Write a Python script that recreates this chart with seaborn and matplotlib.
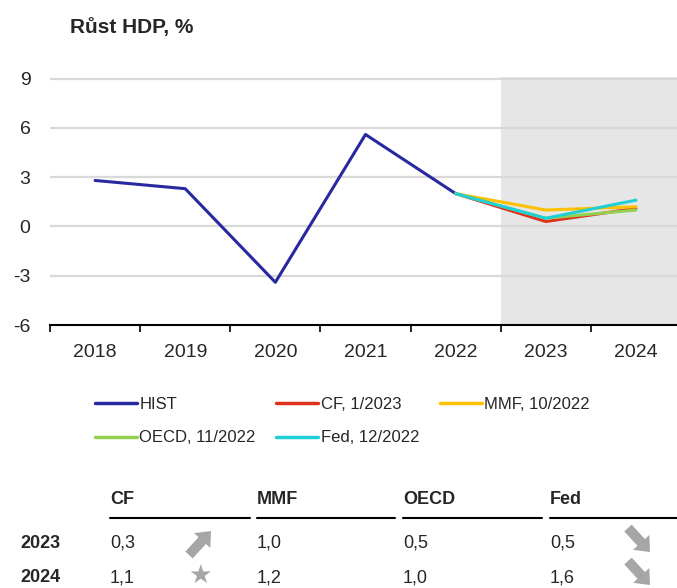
import pandas as pd
import matplotlib.pyplot as plt
import matplotlib.patches as mpatches
from matplotlib.lines import Line2D
import seaborn as sns

sns.set_theme(style="white")
plt.rcParams['font.family'] = ['Liberation Sans', 'DejaVu Sans']

# data
years = [2018, 2019, 2020, 2021, 2022, 2023, 2024]
hist_years = [2018, 2019, 2020, 2021, 2022]
hist_vals = [2.8, 2.3, -3.4, 5.6, 2.0]
fc_years = [2022, 2023, 2024]
cf_vals = [2.0, 0.3, 1.1]
mmf_vals = [2.0, 1.0, 1.2]
oecd_vals = [2.0, 0.5, 1.0]
fed_vals = [2.0, 0.5, 1.6]

series_names = ['HIST', 'CF, 1/2023', 'MMF, 10/2022', 'OECD, 11/2022', 'Fed, 12/2022']
colors = ['#2828A0', '#E0301E', '#FFC000', '#92D050', '#1FCFD6']

table_cols = ['CF', 'MMF', 'OECD', 'Fed']
table_rows = ['2023', '2024']
table_2023 = ['0,3', '1,0', '0,5', '0,5']
table_2024 = ['1,1', '1,2', '1,0', '1,6']

y_ticks = [-6, -3, 0, 3, 6, 9]

W, H = 677, 588
fig = plt.figure(figsize=(W / 100, H / 100), dpi=100)
ax = fig.add_axes([50 / W, (H - 325) / H, 631 / W, 248 / H])

frames = [pd.DataFrame({'year': hist_years, 'val': hist_vals, 'series': 'HIST'})]
for name, vals in zip(series_names[1:], [cf_vals, mmf_vals, oecd_vals, fed_vals]):
    frames.append(pd.DataFrame({'year': fc_years, 'val': vals, 'series': name}))
df = pd.concat(frames, ignore_index=True)

ax.axvspan(2022.5, 2024.5, color='#E6E6E6', zorder=0, lw=0)
for t in y_ticks[1:]:
    ax.axhline(t, color='#D9D9D9', lw=1.6, zorder=1)

sns.lineplot(data=df, x='year', y='val', hue='series', hue_order=series_names,
             palette=colors, lw=2.2, ax=ax, legend=False, zorder=3)

ax.set_xlim(2017.5, 2024.5)
ax.set_ylim(-6, 9.1)
ax.set_yticks(y_ticks)
ax.set_yticklabels([str(t) for t in y_ticks], fontsize=14)
ax.tick_params(axis='y', length=0, pad=14)
ax.set_xticks([y - 0.5 for y in years] + [2024.5])
ax.set_xticklabels([])
ax.set_xticks(years, minor=True)
ax.set_xticklabels([str(y) for y in years], minor=True, fontsize=14)
ax.tick_params(axis='x', which='major', direction='out', length=5, width=1.2, color='black', bottom=True)
ax.tick_params(axis='x', which='minor', length=0, pad=14)
ax.set_xlabel('')
ax.set_ylabel('')
for s in ['top', 'right', 'left']:
    ax.spines[s].set_visible(False)
ax.spines['bottom'].set_color('black')
ax.spines['bottom'].set_linewidth(1.5)
ax.spines['bottom'].set_zorder(4)

fig.text(70 / W, 1 - 28 / H, 'Růst HDP, %', fontsize=15, fontweight='bold', va='center')

# legend filled column by column -> reorder so rows read HIST, CF, MMF / OECD, Fed
order = [0, 3, 1, 4, 2]
handles = [Line2D([0], [0], color=colors[i], lw=2.5) for i in order]
labels = [series_names[i] for i in order]
fig.legend(handles, labels, loc='upper left', bbox_to_anchor=(80 / W, 1 - 382 / H),
           ncol=3, frameon=False, fontsize=12, handlelength=2.5, handletextpad=0.15,
           columnspacing=1.25, labelspacing=1.1)

# table below the chart
col_x = [110, 257, 403, 550]
col_end = [250, 395, 542, 677]
for x, x1, name in zip(col_x, col_end, table_cols):
    fig.text(x / W, 1 - 500 / H, name, fontsize=13, fontweight='bold', va='center')
    fig.add_artist(Line2D([x / W, x1 / W], [1 - 518 / H, 1 - 518 / H], color='black', lw=1.5))
for row_y, label, vals in zip([543, 578], table_rows, [table_2023, table_2024]):
    fig.text(20 / W, 1 - row_y / H, label, fontsize=13, fontweight='bold', va='center')
    for x, v in zip(col_x, vals):
        fig.text(x / W, 1 - row_y / H, v, fontsize=13, va='center')

icon = '#A6A6A6'
def block_arrow(x0, y0, x1, y1):
    fig.add_artist(mpatches.FancyArrow(x0 / 100, (H - y0) / 100, (x1 - x0) / 100, -(y1 - y0) / 100,
                                       width=0.1, head_width=0.22, head_length=0.13,
                                       length_includes_head=True, color=icon, lw=0,
                                       transform=fig.dpi_scale_trans))

block_arrow(189, 555, 211, 531)
block_arrow(628, 528, 650, 552)
block_arrow(628, 561, 650, 585)
fig.text(200 / W, 1 - 576 / H, '★', fontsize=19, color=icon, ha='center', va='center',
         family='DejaVu Sans')

fig.savefig('out.png', dpi=100)
